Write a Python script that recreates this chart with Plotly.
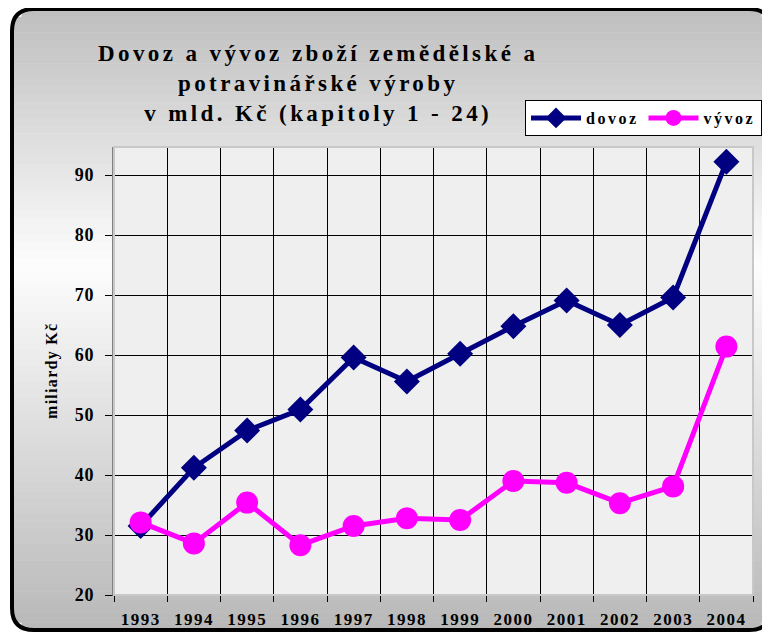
import plotly.graph_objects as go

years = ["1993", "1994", "1995", "1996", "1997", "1998", "1999", "2000", "2001", "2002", "2003", "2004"]
dovoz = [31.5, 41.2, 47.4, 50.9, 59.6, 55.6, 60.2, 64.8, 69.1, 65.0, 69.6, 92.2]
vyvoz = [32.1, 28.6, 35.4, 28.3, 31.5, 32.8, 32.5, 39.0, 38.7, 35.3, 38.1, 61.4]
yticks = [20, 30, 40, 50, 60, 70, 80, 90]

W, H = 770, 633
OFF = 8  # page body margin in the browser
PL, PR, PT, PB = 114 - OFF, 753 - OFF, 147 - OFF, 595 - OFF
YMIN, YMAX = 20, 94.67

def px(x):
    return (x - OFF - PL) / (PR - PL)

def py(y):
    return (PB - (y - OFF)) / (PB - PT)

FONT = "Liberation Serif, Times New Roman, serif"

def spaced(t, s):
    return f'<span style="letter-spacing:{s}px">{t}</span>'

fig = go.Figure()
fig.add_trace(go.Scatter(x=years, y=dovoz, name=spaced("dovoz", 2.5), mode="lines+markers",
                         line=dict(color="#000080", width=5),
                         marker=dict(symbol="diamond", size=20, color="#000080")))
fig.add_trace(go.Scatter(x=years, y=vyvoz, name=spaced("vývoz", 2.5), mode="lines+markers",
                         line=dict(color="#FF00FF", width=5),
                         marker=dict(symbol="circle", size=22, color="#FF00FF")))

shapes = []
# background gradient clipped to rounded rectangle (screen coords)
bx0, by0, bx1, by1, r = 12, 9, 771, 630, 22
N = 80
def gray_at(y):
    if y <= 265:
        t = (y - by0) / (265 - by0)
        v = 190 + t * (253 - 190)
    else:
        t = (y - 265) / (by1 - 265)
        v = 253 + t * (184 - 253)
    v = int(round(v))
    return f"rgb({v},{v},{v})"
step = (by1 - by0) / N
for i in range(N):
    ya = by0 + i * step
    yb = ya + step
    ym = (ya + yb) / 2
    inset = 0
    if ym < by0 + r:
        d = by0 + r - ym
        inset = r - (max(r * r - d * d, 0)) ** 0.5
    elif ym > by1 - r:
        d = ym - (by1 - r)
        inset = r - (max(r * r - d * d, 0)) ** 0.5
    shapes.append(dict(type="rect", xref="paper", yref="paper", layer="below",
                       x0=px(bx0 + inset), x1=px(bx1 - inset), y0=py(yb + 0.5), y1=py(ya),
                       line=dict(width=0), fillcolor=gray_at(ym)))
# plot area background
shapes.append(dict(type="rect", xref="paper", yref="paper", layer="below",
                   x0=0, x1=1, y0=0, y1=1, line=dict(width=0), fillcolor="#efefef"))
# plot area border (light)
shapes.append(dict(type="rect", xref="paper", yref="paper", layer="above",
                   x0=0, x1=1, y0=0, y1=1, line=dict(width=2, color="#c8c8c8")))
# rounded border path
def P(x, y):
    return f"{px(x)},{py(y)}"
path = (f"M {P(bx0 + r, by0)} L {P(bx1 - r, by0)} Q {P(bx1, by0)} {P(bx1, by0 + r)} "
        f"L {P(bx1, by1 - r)} Q {P(bx1, by1)} {P(bx1 - r, by1)} "
        f"L {P(bx0 + r, by1)} Q {P(bx0, by1)} {P(bx0, by1 - r)} "
        f"L {P(bx0, by0 + r)} Q {P(bx0, by0)} {P(bx0 + r, by0)} Z")
shapes.append(dict(type="path", xref="paper", yref="paper", path=path, layer="above",
                   line=dict(color="black", width=4)))

title_lines = ["Dovoz a vývoz zboží zemědělské a", "potravinářské výroby", "v mld. Kč (kapitoly 1 - 24)"]
title_text = "<br>".join(spaced(t, 3.4) for t in title_lines)

fig.update_layout(
    width=W, height=H,
    margin=dict(l=PL, r=W - PR, t=PT, b=H - PB, autoexpand=False),
    paper_bgcolor="white", plot_bgcolor="rgba(0,0,0,0)",
    showlegend=True,
    legend=dict(orientation="h", x=px(525), y=py(100), xanchor="left", yanchor="top",
                bgcolor="white", bordercolor="black", borderwidth=1,
                font=dict(family=FONT, size=16, color="black", weight="bold"),
                itemwidth=50, tracegroupgap=0, traceorder="normal"),
    shapes=shapes,
    annotations=[
        dict(text=title_text, xref="paper", yref="paper", x=px(318), y=py(83),
             xanchor="center", yanchor="middle", showarrow=False, align="center",
             font=dict(family=FONT, size=23, color="black", weight="bold")),
        dict(text=spaced("miliardy Kč", 1.3), xref="paper", yref="paper", x=px(52), y=py(371),
             xanchor="center", yanchor="middle", showarrow=False, textangle=-90,
             font=dict(family=FONT, size=16, color="black", weight="bold")),
    ],
    xaxis=dict(type="category", range=[-0.5, 11.5], tickson="boundaries", automargin=False,
               tickvals=years, ticktext=[spaced(y, 1.5) for y in years],
               showgrid=True, gridcolor="black", gridwidth=1,
               ticks="outside", ticklen=6, tickcolor="black", ticklabelstandoff=9,
               showline=True, linecolor="#555555", linewidth=1,
               tickfont=dict(family=FONT, size=17, color="black", weight="bold"),
               zeroline=False),
    yaxis=dict(range=[YMIN, YMAX], tickvals=yticks, automargin=False,
               ticktext=[spaced(str(v), 0.8) for v in yticks],
               showgrid=True, gridcolor="black", gridwidth=1,
               ticks="outside", ticklen=7, tickcolor="black", ticklabelstandoff=7,
               showline=True, linecolor="#808080", linewidth=2,
               tickfont=dict(family=FONT, size=18, color="black", weight="bold"),
               zeroline=False),
)

fig.write_html("out.html")
